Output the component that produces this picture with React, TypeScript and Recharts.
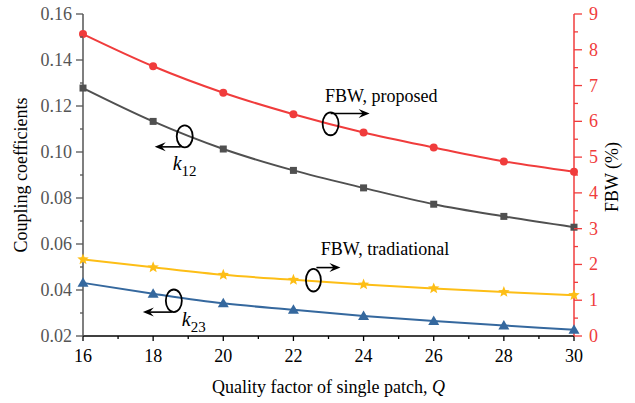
import React from 'react';
import { ComposedChart, Line, XAxis, YAxis, ReferenceDot } from 'recharts';

// Quality factor Q of a single patch
const qValues = [16, 18, 20, 22, 24, 26, 28, 30];
// coupling coefficients (left axis)
const k12 = [0.1278, 0.1133, 0.1013, 0.092, 0.0844, 0.0773, 0.072, 0.0673];
const k23 = [0.0431, 0.0384, 0.0342, 0.0314, 0.0287, 0.0265, 0.0246, 0.0227];
// fractional bandwidth in % (right axis)
const fbwProposed = [8.44, 7.54, 6.8, 6.2, 5.69, 5.27, 4.88, 4.59];
const fbwTraditional = [2.14, 1.92, 1.71, 1.57, 1.44, 1.33, 1.23, 1.14];

const xMajor = [16, 18, 20, 22, 24, 26, 28, 30];
const xMinor = [17, 19, 21, 23, 25, 27, 29];
const leftMajor = [0.02, 0.04, 0.06, 0.08, 0.1, 0.12, 0.14, 0.16];
const leftMinor = [0.03, 0.05, 0.07, 0.09, 0.11, 0.13, 0.15];
const rightMajor = [0, 1, 2, 3, 4, 5, 6, 7, 8, 9];
const rightMinor = [0.5, 1.5, 2.5, 3.5, 4.5, 5.5, 6.5, 7.5, 8.5];

const FONT = '"Liberation Serif", "Times New Roman", serif';
const RED = '#f03c3c';
const GRAY = '#505050';
const YELLOW = '#fdbe16';
const BLUE = '#35689e';
const txt = { fontFamily: FONT };

const chartData = qValues.map((q, i) => ({
  q,
  k12: k12[i],
  k23: k23[i],
  fbwP: fbwProposed[i],
  fbwT: fbwTraditional[i],
}));

const sortNum = (a: number[]) => [...a].sort((x, y) => x - y);
const isMajor = (v: number, list: number[]) => list.some(m => Math.abs(m - v) < 1e-9);

const BottomTick = ({ x, y, payload }: any) => {
  const major = isMajor(payload.value, xMajor);
  return (
    <g>
      <line x1={x} x2={x} y1={y} y2={y + (major ? 5 : 3)} stroke="#000" strokeWidth={1.3} />
      {major && (
        <text x={x} y={y + 26} textAnchor="middle" fontSize={18} fill="#000" style={txt}>
          {payload.value}
        </text>
      )}
    </g>
  );
};

const TopTick = ({ x, y, payload }: any) => {
  const major = isMajor(payload.value, xMajor);
  return <line x1={x} x2={x} y1={y} y2={y + (major ? 6 : 3)} stroke="#000" strokeWidth={1.3} />;
};

const LeftTick = ({ x, y, payload }: any) => {
  const major = isMajor(payload.value, leftMajor);
  return (
    <g>
      <line x1={x} x2={x - (major ? 7 : 3)} y1={y} y2={y} stroke="#555" strokeWidth={1.3} />
      {major && (
        <text x={x - 11} y={y + 6} textAnchor="end" fontSize={18} fill="#555" style={txt}>
          {payload.value.toFixed(2)}
        </text>
      )}
    </g>
  );
};

const RightTick = ({ x, y, payload }: any) => {
  const major = isMajor(payload.value, rightMajor);
  return (
    <g>
      <line x1={x} x2={x + (major ? 8 : 4)} y1={y} y2={y} stroke={RED} strokeWidth={1.3} />
      {major && (
        <text x={x + 15} y={y + 6} textAnchor="start" fontSize={18} fill={RED} style={txt}>
          {payload.value}
        </text>
      )}
    </g>
  );
};

const CircleDot = (p: any) => <circle key={p.index} cx={p.cx} cy={p.cy} r={4} fill={RED} />;
const SquareDot = (p: any) => (
  <rect key={p.index} x={p.cx - 3.5} y={p.cy - 3.5} width={7} height={7} fill={GRAY} />
);
const TriangleDot = (p: any) => (
  <polygon
    key={p.index}
    points={`${p.cx},${p.cy - 5.5} ${p.cx + 5.5},${p.cy + 4} ${p.cx - 5.5},${p.cy + 4}`}
    fill={BLUE}
  />
);
const StarDot = (p: any) => {
  const pts: string[] = [];
  for (let i = 0; i < 10; i++) {
    const r = i % 2 === 0 ? 6 : 2.6;
    const a = -Math.PI / 2 + (i * Math.PI) / 5;
    pts.push(`${p.cx + r * Math.cos(a)},${p.cy + r * Math.sin(a)}`);
  }
  return <polygon key={p.index} points={pts.join(' ')} fill={YELLOW} />;
};

// horizontal arrow with a stealth head, tip at (x2, y)
const Arrow = ({ x1, x2, y }: { x1: number; x2: number; y: number }) => {
  const d = x2 > x1 ? 1 : -1;
  const back = x2 - d * 11;
  return (
    <g>
      <line x1={x1} x2={x2 - d * 6} y1={y} y2={y} stroke="#000" strokeWidth={1.6} />
      <polygon
        points={`${x2},${y} ${back},${y - 4.5} ${x2 - d * 7},${y} ${back},${y + 4.5}`}
        fill="#000"
      />
    </g>
  );
};

const K12Mark = ({ cx, cy }: any) => (
  <g>
    <ellipse cx={cx} cy={cy} rx={8} ry={11} fill="none" stroke="#000" strokeWidth={1.8} />
    <Arrow x1={cx - 4} x2={cx - 30} y={cy + 10.5} />
    <text x={cx - 12} y={cy + 34} fontSize={20} fill="#000" style={txt}>
      <tspan fontStyle="italic">k</tspan>
      <tspan fontSize={15} dy={6}>12</tspan>
    </text>
  </g>
);

const K23Mark = ({ cx, cy }: any) => (
  <g>
    <ellipse cx={cx} cy={cy} rx={8} ry={11.3} fill="none" stroke="#000" strokeWidth={1.8} />
    <Arrow x1={cx - 2} x2={cx - 31} y={cy + 11.3} />
    <text x={cx + 8} y={cy + 25} fontSize={20} fill="#000" style={txt}>
      <tspan fontStyle="italic">k</tspan>
      <tspan fontSize={15} dy={6}>23</tspan>
    </text>
  </g>
);

const FbwProposedMark = ({ cx, cy }: any) => (
  <g>
    <ellipse cx={cx} cy={cy} rx={8} ry={11.4} fill="none" stroke="#000" strokeWidth={1.8} />
    <Arrow x1={cx} x2={cx + 39} y={cy - 10.4} />
    <text x={cx - 5.5} y={cy - 22} fontSize={18} fill="#000" style={txt}>FBW, proposed</text>
  </g>
);

const FbwTraditionalMark = ({ cx, cy }: any) => (
  <g>
    <ellipse cx={cx} cy={cy} rx={7.5} ry={11.3} fill="none" stroke="#000" strokeWidth={1.8} />
    <Arrow x1={cx + 3} x2={cx + 27} y={cy - 12.6} />
    <text x={cx + 7.4} y={cy - 25} fontSize={18} fill="#000" style={txt}>FBW, tradiational</text>
  </g>
);

export default function App() {
  return (
    <div style={{ width: 635, height: 403, background: '#fff', fontFamily: FONT }}>
      <style>{`body{margin:0}`}</style>
      <ComposedChart
        width={635}
        height={403}
        data={chartData}
        margin={{ top: 14, right: 0, bottom: 0, left: 0 }}
        style={txt}
      >
        <XAxis
          dataKey="q"
          type="number"
          domain={[16, 30]}
          ticks={sortNum([...xMajor, ...xMinor])}
          interval={0}
          height={67}
          stroke="#000"
          strokeWidth={1.5}
          tickSize={0}
          tickMargin={0}
          tickLine={false}
          tick={<BottomTick />}
          label={{
            content: ({ viewBox }: any) => (
              <text
                x={viewBox.x + viewBox.width / 2}
                y={viewBox.y + 57}
                textAnchor="middle"
                fontSize={18}
                fill="#000"
                style={txt}
              >
                Quality factor of single patch, <tspan fontStyle="italic">Q</tspan>
              </text>
            ),
          }}
        />
        <XAxis
          xAxisId="top"
          dataKey="q"
          type="number"
          orientation="top"
          domain={[16, 30]}
          ticks={sortNum([...xMajor, ...xMinor])}
          interval={0}
          height={0}
          stroke="#000"
          strokeWidth={1.5}
          tickSize={0}
          tickMargin={0}
          tickLine={false}
          tick={<TopTick />}
        />
        <YAxis
          yAxisId="left"
          type="number"
          domain={[0.02, 0.16]}
          ticks={sortNum([...leftMajor, ...leftMinor])}
          interval={0}
          width={83}
          stroke="#555"
          strokeWidth={1.5}
          tickSize={0}
          tickMargin={0}
          tickLine={false}
          tick={<LeftTick />}
          label={{
            content: ({ viewBox }: any) => {
              const cy = viewBox.y + viewBox.height / 2;
              return (
                <text
                  x={27}
                  y={cy}
                  transform={`rotate(-90 27 ${cy})`}
                  textAnchor="middle"
                  fontSize={18}
                  fill="#000"
                  style={txt}
                >
                  Coupling coefficients
                </text>
              );
            },
          }}
        />
        <YAxis
          yAxisId="right"
          orientation="right"
          type="number"
          domain={[0, 9]}
          ticks={sortNum([...rightMajor, ...rightMinor])}
          interval={0}
          width={61}
          stroke={RED}
          strokeWidth={1.5}
          tickSize={0}
          tickMargin={0}
          tickLine={false}
          tick={<RightTick />}
          label={{
            content: ({ viewBox }: any) => {
              const cy = viewBox.y + viewBox.height / 2 + 2;
              return (
                <text
                  x={618}
                  y={cy}
                  transform={`rotate(-90 618 ${cy})`}
                  textAnchor="middle"
                  fontSize={18}
                  fill="#000"
                  style={txt}
                >
                  FBW (%)
                </text>
              );
            },
          }}
        />
        <Line
          yAxisId="right"
          type="monotone"
          dataKey="fbwP"
          stroke={RED}
          strokeWidth={2}
          dot={CircleDot}
          activeDot={false}
          isAnimationActive={false}
        />
        <Line
          yAxisId="left"
          type="monotone"
          dataKey="k12"
          stroke={GRAY}
          strokeWidth={2}
          dot={SquareDot}
          activeDot={false}
          isAnimationActive={false}
        />
        <Line
          yAxisId="right"
          type="monotone"
          dataKey="fbwT"
          stroke={YELLOW}
          strokeWidth={2}
          dot={StarDot}
          activeDot={false}
          isAnimationActive={false}
        />
        <Line
          yAxisId="left"
          type="monotone"
          dataKey="k23"
          stroke={BLUE}
          strokeWidth={2}
          dot={TriangleDot}
          activeDot={false}
          isAnimationActive={false}
        />
        <ReferenceDot yAxisId="left" x={18.9} y={0.1068} ifOverflow="visible" shape={K12Mark} />
        <ReferenceDot yAxisId="left" x={18.59} y={0.0353} ifOverflow="visible" shape={K23Mark} />
        <ReferenceDot yAxisId="right" x={23.06} y={5.93} ifOverflow="visible" shape={FbwProposedMark} />
        <ReferenceDot yAxisId="right" x={22.57} y={1.56} ifOverflow="visible" shape={FbwTraditionalMark} />
      </ComposedChart>
    </div>
  );
}
